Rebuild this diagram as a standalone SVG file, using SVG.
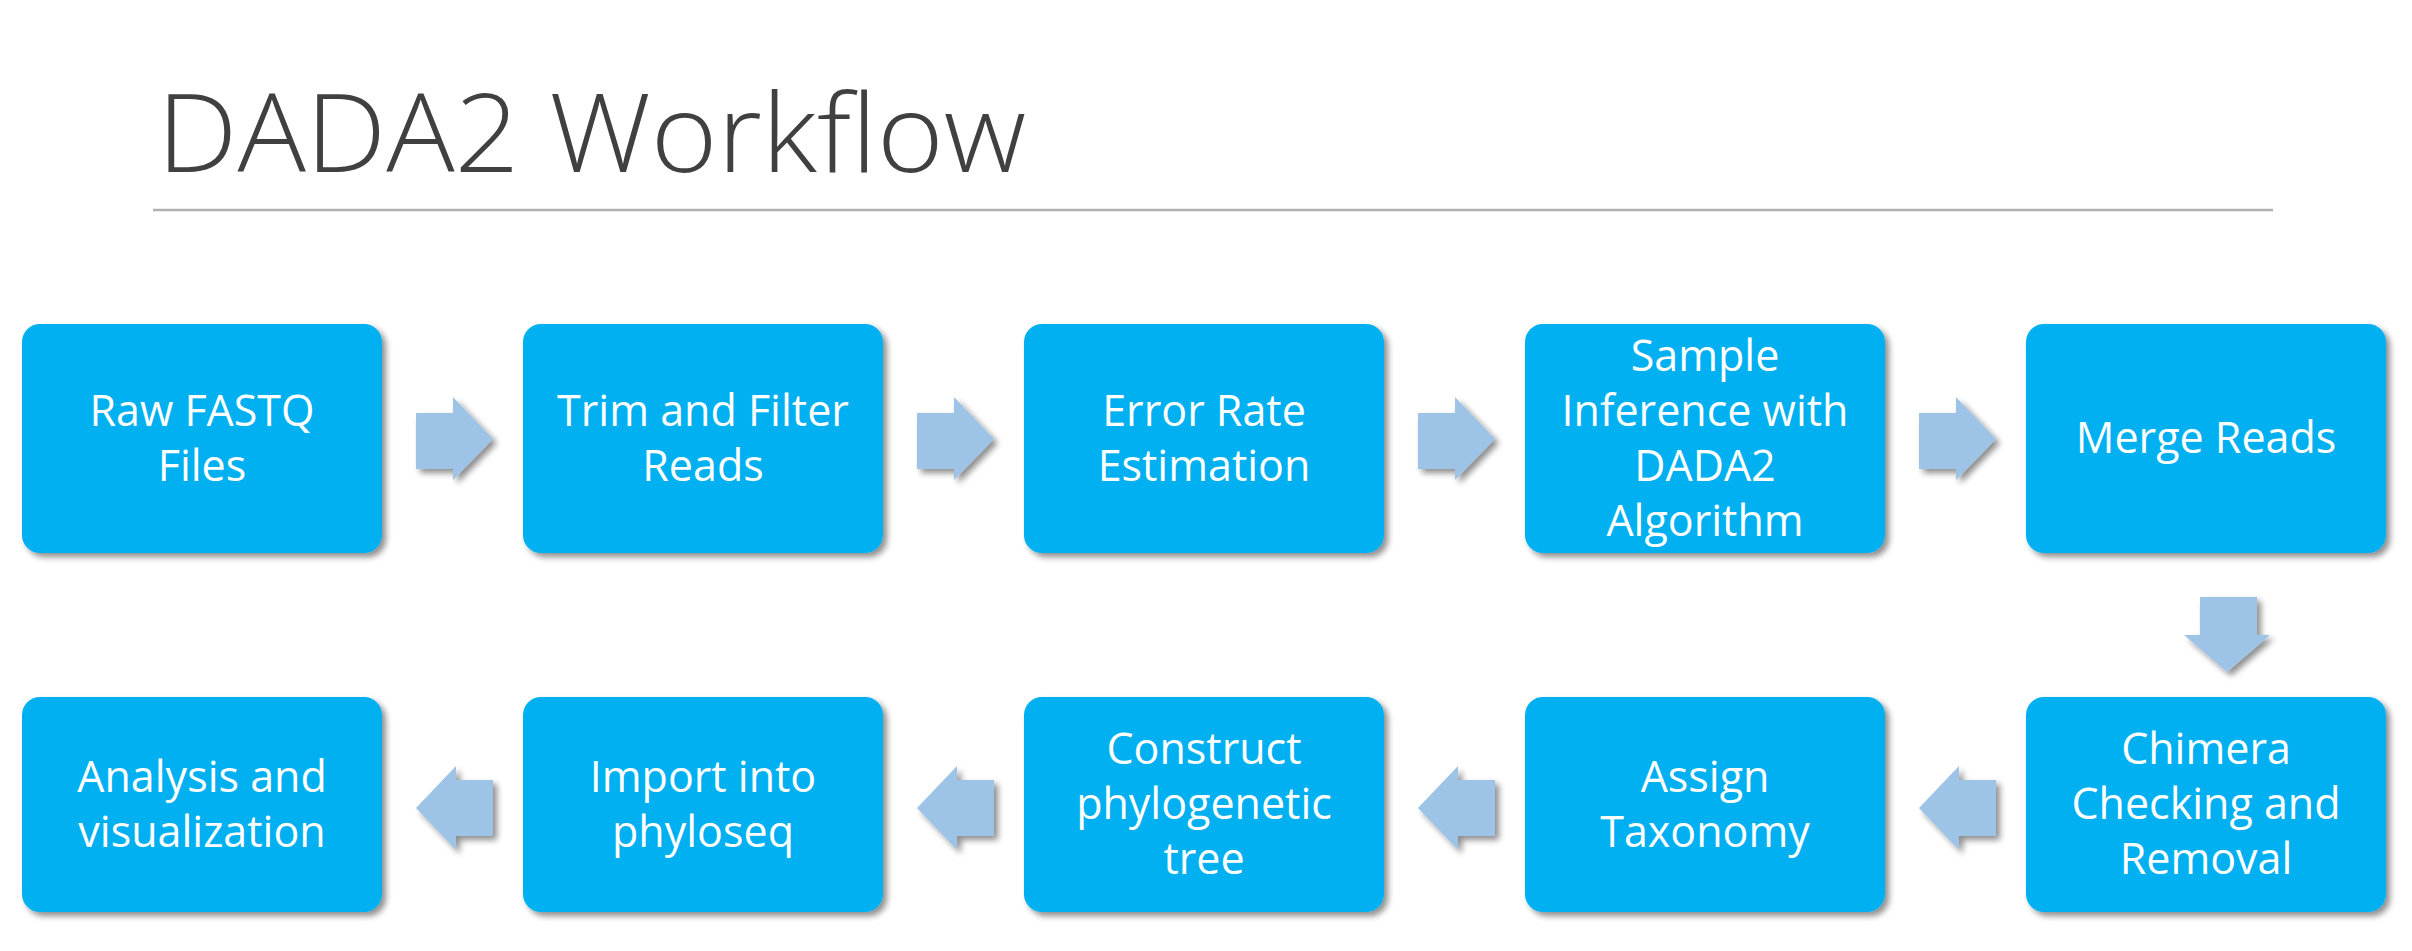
<svg xmlns="http://www.w3.org/2000/svg" width="2412" height="951" viewBox="0 0 2412 951">
<defs>
<filter id="sh" x="-10%" y="-10%" width="125%" height="130%">
<feGaussianBlur in="SourceAlpha" stdDeviation="3"/>
<feOffset dx="4" dy="4" result="b"/>
<feComponentTransfer><feFuncA type="linear" slope="0.45"/></feComponentTransfer>
<feMerge><feMergeNode/><feMergeNode in="SourceGraphic"/></feMerge>
</filter>
<style>
.box{fill:#00B0F0;filter:url(#sh)}
.lbl{font-family:"Open Sans","Liberation Sans",sans-serif;font-size:43px;fill:#FFFFFF;text-anchor:middle}
.arr{fill:#9DC3E6;filter:url(#sh)}
.title{font-family:"Open Sans","Liberation Sans",sans-serif;font-weight:300;font-size:108px;fill:#404040}
</style>
</defs>
<rect width="2412" height="951" fill="#FFFFFF"/>
<text class="title" x="157" y="172" textLength="869" lengthAdjust="spacingAndGlyphs">DADA2 Workflow</text>
<line x1="153" y1="210" x2="2273" y2="210" stroke="#B0B0B0" stroke-width="2.5"/>

<g id="connectors">
<polygon class="arr" points="416,413 453,413 453,397 493,439 453,480 453,469 416,469"/>
<polygon class="arr" transform="translate(501,0)" points="416,413 453,413 453,397 493,439 453,480 453,469 416,469"/>
<polygon class="arr" transform="translate(1002,0)" points="416,413 453,413 453,397 493,439 453,480 453,469 416,469"/>
<polygon class="arr" transform="translate(1503,0)" points="416,413 453,413 453,397 493,439 453,480 453,469 416,469"/>
<polygon class="arr" points="2200,597 2257,597 2257,635 2270,635 2227,672 2184,635 2200,635"/>
<polygon class="arr" points="493,780 456,780 456,766 416,808 456,850 456,836 493,836"/>
<polygon class="arr" transform="translate(501,0)" points="493,780 456,780 456,766 416,808 456,850 456,836 493,836"/>
<polygon class="arr" transform="translate(1002,0)" points="493,780 456,780 456,766 416,808 456,850 456,836 493,836"/>
<polygon class="arr" transform="translate(1503,0)" points="493,780 456,780 456,766 416,808 456,850 456,836 493,836"/>
</g>

<g id="raw-fastq">
<rect class="box" x="22" y="324" width="360" height="229" rx="18"/>
<text class="lbl" x="202" y="426">Raw FASTQ</text>
<text class="lbl" x="202" y="481">Files</text>
</g>
<g id="trim-filter">
<rect class="box" x="523" y="324" width="360" height="229" rx="18"/>
<text class="lbl" x="703" y="426">Trim and Filter</text>
<text class="lbl" x="703" y="481">Reads</text>
</g>
<g id="error-rate">
<rect class="box" x="1024" y="324" width="360" height="229" rx="18"/>
<text class="lbl" x="1204" y="426">Error Rate</text>
<text class="lbl" x="1204" y="481">Estimation</text>
</g>
<g id="sample-inference">
<rect class="box" x="1525" y="324" width="360" height="229" rx="18"/>
<text class="lbl" x="1705" y="371">Sample</text>
<text class="lbl" x="1705" y="426">Inference with</text>
<text class="lbl" x="1705" y="481">DADA2</text>
<text class="lbl" x="1705" y="536">Algorithm</text>
</g>
<g id="merge-reads">
<rect class="box" x="2026" y="324" width="360" height="229" rx="18"/>
<text class="lbl" x="2206" y="453">Merge Reads</text>
</g>
<g id="chimera">
<rect class="box" x="2026" y="697" width="360" height="215" rx="18"/>
<text class="lbl" x="2206" y="764">Chimera</text>
<text class="lbl" x="2206" y="819">Checking and</text>
<text class="lbl" x="2206" y="874">Removal</text>
</g>
<g id="assign-taxonomy">
<rect class="box" x="1525" y="697" width="360" height="215" rx="18"/>
<text class="lbl" x="1705" y="792">Assign</text>
<text class="lbl" x="1705" y="847">Taxonomy</text>
</g>
<g id="phylo-tree">
<rect class="box" x="1024" y="697" width="360" height="215" rx="18"/>
<text class="lbl" x="1204" y="764">Construct</text>
<text class="lbl" x="1204" y="819">phylogenetic</text>
<text class="lbl" x="1204" y="874">tree</text>
</g>
<g id="import-phyloseq">
<rect class="box" x="523" y="697" width="360" height="215" rx="18"/>
<text class="lbl" x="703" y="792">Import into</text>
<text class="lbl" x="703" y="847">phyloseq</text>
</g>
<g id="analysis">
<rect class="box" x="22" y="697" width="360" height="215" rx="18"/>
<text class="lbl" x="202" y="792">Analysis and</text>
<text class="lbl" x="202" y="847">visualization</text>
</g>
</svg>
